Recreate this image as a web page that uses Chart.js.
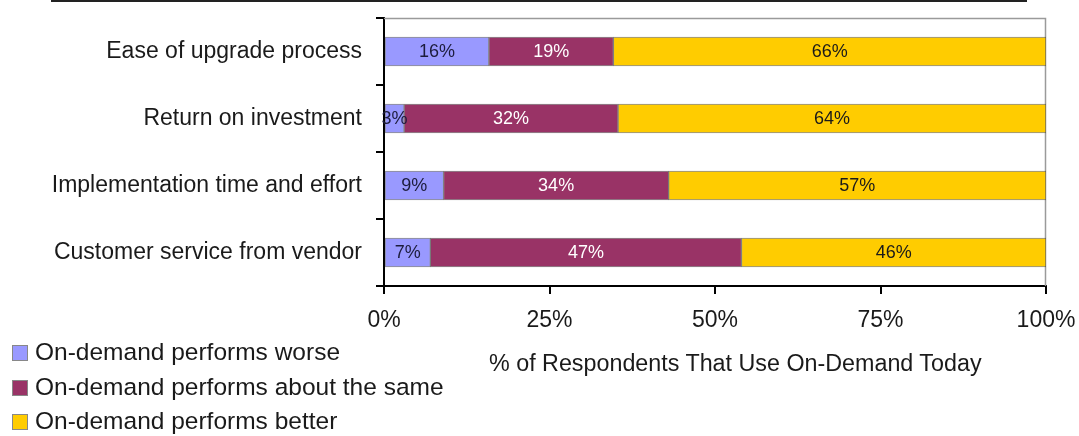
<!DOCTYPE html>
<html>
<head>
<meta charset="utf-8">
<script src="https://cdn.jsdelivr.net/npm/chart.js@4.4.1/dist/chart.umd.min.js"></script>
<style>
  body { margin: 0; background: #fff; }
  #wrap { position: relative; width: 1079px; height: 436px; overflow: hidden; font-family: "Liberation Sans", Arial, sans-serif; }
  #topRule { position: absolute; left: 51px; top: 0; width: 976px; height: 2px; background: #222; }
  #axisTitle { position: absolute; left: 489px; top: 350px; font-size: 23.3px; color: #1a1a1a; white-space: nowrap; }
  #legend { position: absolute; left: 12px; top: 335px; font-size: 24.5px; color: #1a1a1a; }
  #legend .row { height: 34.5px; line-height: 34.5px; white-space: nowrap; }
  #legend .box { display: inline-block; width: 14px; height: 14px; border: 1px solid #888; margin-right: 7px; vertical-align: -1px; }
</style>
</head>
<body>
<div id="wrap">
  <canvas id="chart" width="1079" height="436"></canvas>
  <div id="topRule"></div>
  <div id="axisTitle"></div>
  <div id="legend"></div>
</div>
<script>
// --- DATA ---
const categories = ['Ease of upgrade process', 'Return on investment', 'Implementation time and effort', 'Customer service from vendor'];
const seriesNames = ['On-demand performs worse', 'On-demand performs about the same', 'On-demand performs better'];
const worse = [16, 3, 9, 7];
const same = [19, 32, 34, 47];
const better = [66, 64, 57, 46];
const xTicks = [0, 25, 50, 75, 100];
const axisTitle = '% of Respondents That Use On-Demand Today';

const colors = ['#9999FF', '#993366', '#FFCC00'];
const labelColors = ['#1c1c3c', '#ffffff', '#1a1a1a'];
const FONT = '"Liberation Sans", Arial, sans-serif';

// 100% stacked: each row is scaled to its own total, like the original
const rows = [worse, same, better];
const totals = categories.map((c, j) => rows.reduce((s, r) => s + r[j], 0));

// =========================================================
// PLUGINS
// =========================================================

const plotFrame = {
    id: 'plotFrame',
    beforeDatasetsDraw(chart) {
        const { ctx, chartArea: a } = chart;
        ctx.save();
        ctx.strokeStyle = '#9a9a9a';
        ctx.lineWidth = 1.5;
        ctx.beginPath();
        ctx.moveTo(a.left, a.top + 0.5);
        ctx.lineTo(a.right - 0.5, a.top + 0.5);
        ctx.lineTo(a.right - 0.5, a.bottom);
        ctx.stroke();
        ctx.restore();
    }
};

const segmentLabels = {
    id: 'segmentLabels',
    afterDatasetsDraw(chart) {
        const { ctx } = chart;
        ctx.save();
        ctx.font = '18px ' + FONT;
        ctx.textAlign = 'center';
        ctx.textBaseline = 'middle';
        chart.data.datasets.forEach((ds, i) => {
            chart.getDatasetMeta(i).data.forEach((bar, j) => {
                ctx.fillStyle = labelColors[i];
                ctx.fillText(ds.raw[j] + '%', (bar.x + bar.base) / 2, bar.y + 1);
            });
        });
        ctx.restore();
    }
};

// =========================================================
// CHART
// =========================================================

new Chart(document.getElementById('chart'), {
    type: 'bar',
    data: {
        labels: categories,
        datasets: rows.map((r, i) => ({
            label: seriesNames[i],
            raw: r,
            data: r.map((v, j) => v / totals[j] * 100),
            backgroundColor: colors[i],
            borderColor: 'rgba(50, 50, 50, 0.55)',
            borderWidth: 1,
            borderSkipped: false,
            barThickness: 29
        }))
    },
    options: {
        indexAxis: 'y',
        responsive: false,
        animation: false,
        devicePixelRatio: 1,
        layout: { padding: { top: 18, right: 33, left: 0, bottom: 0 } },
        plugins: { legend: { display: false }, tooltip: { enabled: false } },
        scales: {
            x: {
                stacked: true, min: 0, max: 100,
                afterBuildTicks: (s) => { s.ticks = xTicks.map(v => ({ value: v })); },
                afterFit: (s) => { s.height = 150; s.paddingLeft = 0; s.paddingRight = 0; },
                ticks: { callback: v => v + '%', color: '#1a1a1a', font: { family: FONT, size: 23 }, padding: 13, maxRotation: 0 },
                grid: { drawOnChartArea: false, drawTicks: true, tickLength: 8, color: '#000', lineWidth: 2 },
                border: { display: true, color: '#000', width: 2 }
            },
            y: {
                stacked: true,
                afterFit: (s) => { s.width = 384; s.paddingTop = 0; s.paddingBottom = 0; },
                ticks: { color: '#1a1a1a', font: { family: FONT, size: 23 }, padding: 14 },
                grid: { drawOnChartArea: false, drawTicks: true, tickLength: 8, color: '#000', lineWidth: 2 },
                border: { display: true, color: '#000', width: 2 }
            }
        }
    },
    plugins: [plotFrame, segmentLabels]
});

// --- HTML legend and axis title ---
document.getElementById('axisTitle').textContent = axisTitle;
const legendEl = document.getElementById('legend');
seriesNames.forEach((name, i) => {
    const row = document.createElement('div');
    row.className = 'row';
    const box = document.createElement('span');
    box.className = 'box';
    box.style.background = colors[i];
    row.appendChild(box);
    row.appendChild(document.createTextNode(name));
    legendEl.appendChild(row);
});
</script>
</body>
</html>
